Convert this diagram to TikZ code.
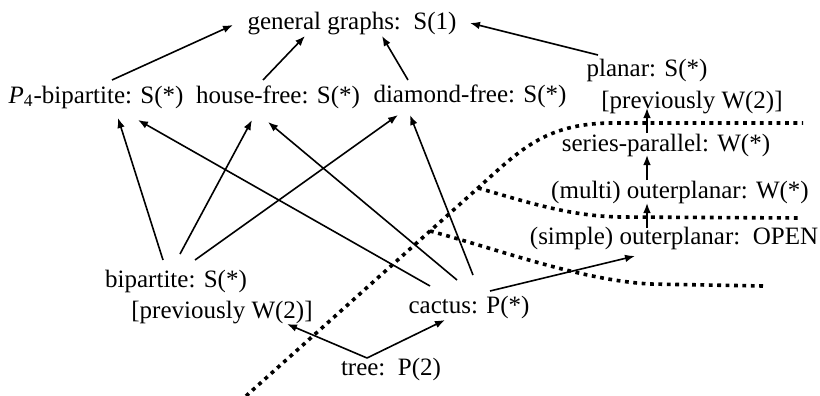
\documentclass[tikz,border=0pt]{standalone}
\usepackage{fontspec}
\setmainfont{Liberation Serif}
\usetikzlibrary{arrows.meta,calc}
\tikzset{lbl/.style={anchor=base,inner sep=0pt,font=\fontsize{12.5}{15}\selectfont},
  line/.style={draw,line width=0.8pt,-{Latex[length=5pt,width=3.8pt]}},
  border/.style={draw,line width=1.8pt,dash pattern=on 1.9pt off 2.3pt}}

\begin{document}
\begin{tikzpicture}[x=0.5pt,y=-0.5pt]
      \useasboundingbox (0,0) rectangle (820,396);

      % graph classes
      \node[lbl] (gen) at (352,29) {general graphs:~~S(1)};
      \node[lbl] (p4) at (96,103) {\textit{P}\textsubscript{4}-bipartite: S(*)};
      \node[lbl] (house) at (278,103) {house-free: S(*)};
      \node[lbl] (diamond) at (470,102) {diamond-free: S(*)};
      \node[lbl] (planar) at (647,76) {planar: S(*)};
      \node[lbl] (planarprev) at (692,108) {[previously W(2)]};
      \node[lbl] (sp) at (666,151) {series-parallel: W(*)};
      \node[lbl] (multi) at (680,198) {(multi) outerplanar: W(*)};
      \node[lbl] (simple) at (674,244) {(simple) outerplanar:~~OPEN};
      \node[lbl] (bip) at (176,287) {bipartite: S(*)};
      \node[lbl] (bipprev) at (222,318) {[previously W(2)]};
      \node[lbl] (cactus) at (469,313) {cactus: P(*)};
      \node[lbl] (tree) at (391,375) {tree:~~P(2)};

      % dotted borders
      \coordinate (fork) at (478,188);
      \draw[border] (246,396) -- (fork) .. controls (520,150) and (545,124) .. (610,123) -- (803,123);
      \draw[border] (fork) .. controls (530,203) and (570,216) .. (620,217) -- (798,218);
      \draw[border] (430,231) .. controls (500,250) and (580,280) .. (650,284) -- (763,286);

      % up to general graphs
      \draw[line] ($(p4.base)+(16,-23)$) -- ($(gen.base)+(-119,-4)$);
      \draw[line] ($(house.base)+(-15,-23)$) -- ($(gen.base)+(-47,7)$);
      \draw[line] ($(diamond.base)+(-62,-22)$) -- ($(gen.base)+(30,7)$);
      \draw[line] ($(planar.base)+(-49,-21)$) -- ($(gen.base)+(118,-6)$);

      % planar chain
      \draw[line] ($(sp.base -| planar.base)+(0,-18)$) -- (planarprev.base -| planar.base);
      \draw[line] ($(multi.base -| planar.base)+(0,-18)$) -- ($(sp.base -| planar.base)+(0,4)$);
      \draw[line] ($(simple.base -| planar.base)+(0,-16)$) -- ($(multi.base -| planar.base)+(0,5)$);

      % bipartite
      \draw[line] ($(bip.base)+(-13,-27)$) -- ($(p4.base)+(22,15)$);
      \draw[line] ($(bip.base)+(4,-33)$) -- ($(house.base)+(-26,17)$);
      \draw[line] ($(bip.base)+(19,-27)$) -- ($(diamond.base)+(-72,13)$);

      % cactus
      \draw[line] ($(cactus.base)+(-39,-27)$) -- ($(p4.base)+(42,17)$);
      \draw[line] ($(cactus.base)+(-12,-33)$) -- ($(house.base)+(-10,19)$);
      \draw[line] ($(cactus.base)+(4,-38)$) -- ($(diamond.base)+(-60,13)$);
      \draw[line] ($(cactus.base)+(21,-22)$) -- ($(simple.base)+(-39,12)$);

      % tree
      \draw[line] ($(tree.base)+(-24,-17)$) -- ($(bipprev.base)+(65,6)$);
      \draw[line] ($(tree.base)+(-24,-17)$) -- ($(cactus.base)+(-24,7)$);
\end{tikzpicture}
\end{document}
